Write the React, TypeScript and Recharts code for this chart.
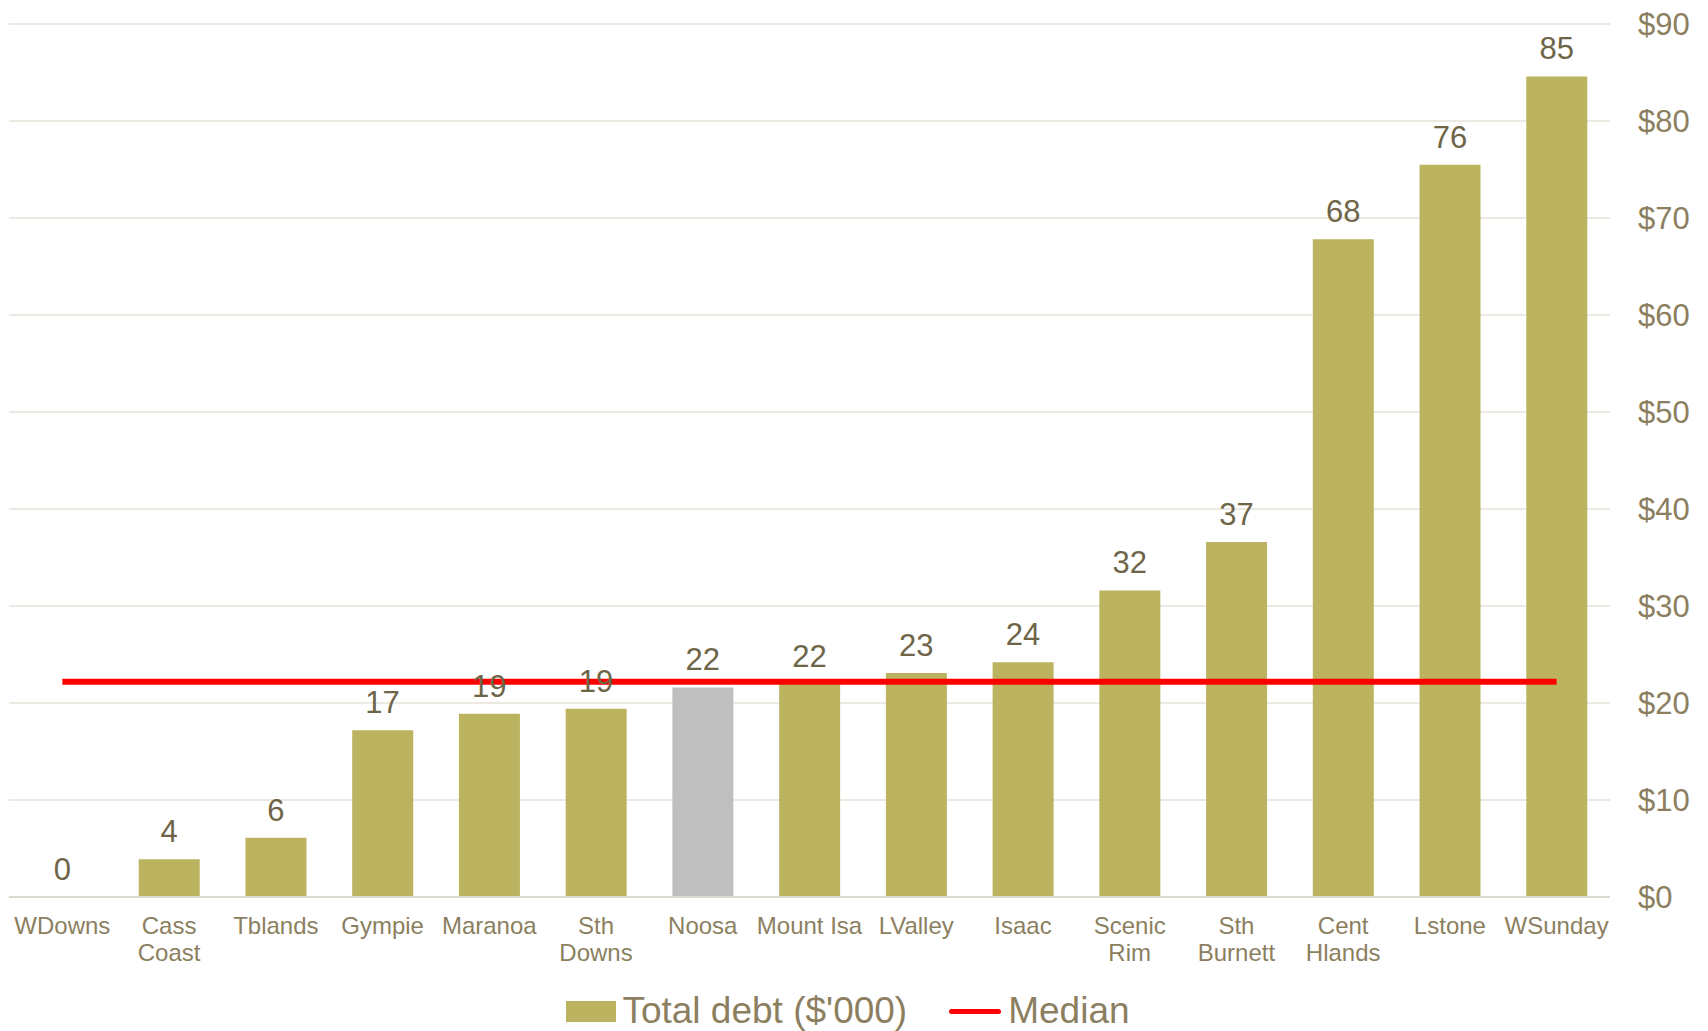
import { ComposedChart, Bar, Line, XAxis, YAxis, CartesianGrid, Legend, LabelList, Cell } from 'recharts'

const categories = ['WDowns', 'Cass Coast', 'Tblands', 'Gympie', 'Maranoa', 'Sth Downs', 'Noosa', 'Mount Isa', 'LValley', 'Isaac', 'Scenic Rim', 'Sth Burnett', 'Cent Hlands', 'Lstone', 'WSunday']
const totalDebt = [0, 3.9, 6.1, 17.2, 18.9, 19.4, 21.6, 22.0, 23.1, 24.2, 31.6, 36.6, 67.8, 75.5, 84.6]
const median = [22.2, 22.2, 22.2, 22.2, 22.2, 22.2, 22.2, 22.2, 22.2, 22.2, 22.2, 22.2, 22.2, 22.2, 22.2]
const yTicks = [0, 10, 20, 30, 40, 50, 60, 70, 80, 90]
const highlighted = 'Noosa'

const data = categories.map((name, i) => ({ name, debt: totalDebt[i], median: median[i] }))

const FONT = '"Liberation Sans", Arial, sans-serif'
const OLIVE = '#BBB35F'
const GREY = '#BFBFBF'
const TICK = '#8C7F5F'
const LABEL = '#6E6548'

function CategoryTick({ x, y, payload }: any) {
  const name: string = payload.value
  const lines = name === 'Mount Isa' ? [name] : name.split(' ')
  return (
    <text x={x} y={y} textAnchor="middle" fill={TICK} fontSize={24} fontFamily={FONT}>
      {lines.map((l, i) => (
        <tspan key={i} x={x} dy={i === 0 ? 29 : 27}>{l}</tspan>
      ))}
    </text>
  )
}

// labels hang off an invisible line so the zero bar still gets one
function ValueLabel({ x, y, value }: any) {
  return (
    <text x={x} y={Number(y) - 17} textAnchor="middle" fill={LABEL} fontSize={31} fontFamily={FONT}>
      {String(Math.round(Number(value)))}
    </text>
  )
}

function ChartLegend() {
  return (
    <div style={{ height: 54, boxSizing: 'border-box', paddingTop: 14, paddingRight: 12, display: 'flex', justifyContent: 'center', alignItems: 'center', fontFamily: FONT, fontSize: 37, color: TICK }}>
      <span style={{ display: 'inline-block', width: 50, height: 21, background: OLIVE, marginRight: 6 }} />
      <span style={{ lineHeight: '40px' }}>Total debt ($'000)</span>
      <span style={{ display: 'inline-block', width: 52, height: 5, borderRadius: 3, background: '#FF0000', marginLeft: 42, marginRight: 7 }} />
      <span style={{ lineHeight: '40px' }}>Median</span>
    </div>
  )
}

export default function App() {
  return (
    <div style={{ position: 'absolute', left: 0, top: 0, fontFamily: FONT }}>
      <ComposedChart width={1708} height={1031} data={data} margin={{ top: 24, right: 0, bottom: 0, left: 9 }}>
        <CartesianGrid vertical={false} stroke="#E6E2D8" strokeWidth={1.5} />
        <XAxis dataKey="name" height={80} interval={0} tick={<CategoryTick />} tickLine={false} axisLine={{ stroke: '#DEDAD0', strokeWidth: 2 }} />
        <YAxis
          orientation="right"
          width={98}
          domain={[0, 90]}
          ticks={yTicks}
          tickFormatter={(v: number) => `$${v}`}
          axisLine={false}
          tickLine={false}
          tickMargin={22}
          tick={{ fill: TICK, fontSize: 31, fontFamily: FONT }}
        />
        <Legend verticalAlign="bottom" wrapperStyle={{ left: 0, width: 1708, bottom: 0 }} content={<ChartLegend />} />
        <Bar dataKey="debt" name="Total debt ($'000)" barSize={61} isAnimationActive={false}>
          {data.map((d) => (
            <Cell key={d.name} fill={d.name === highlighted ? GREY : OLIVE} />
          ))}
        </Bar>
        <Line dataKey="debt" stroke="none" dot={false} activeDot={false} legendType="none" isAnimationActive={false}>
          <LabelList dataKey="debt" content={<ValueLabel />} />
        </Line>
        <Line dataKey="median" name="Median" stroke="#FF0000" strokeWidth={6} dot={false} activeDot={false} isAnimationActive={false} />
      </ComposedChart>
    </div>
  )
}
